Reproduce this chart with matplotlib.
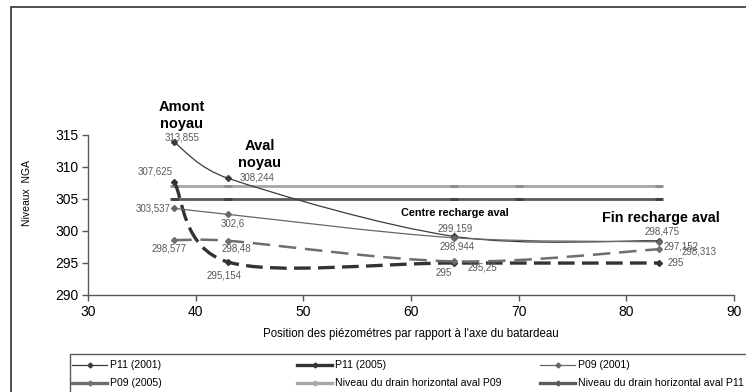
import matplotlib
matplotlib.use("Agg")
import matplotlib.pyplot as plt
from matplotlib.path import Path
from matplotlib.patches import PathPatch, Rectangle
from matplotlib.lines import Line2D
import numpy as np

plt.rcParams['font.family'] = ['Liberation Sans', 'DejaVu Sans']

# ---- data ----
positions = [38, 43, 64, 83]
p11_2001 = [313.855, 308.244, 299.159, 298.475]
p11_2005 = [307.625, 295.154, 295, 295]
p09_2001 = [303.537, 302.6, 298.944, 298.313]
p09_2005 = [298.577, 298.48, 295.25, 297.152]
drain_positions = [38, 43, 64, 70, 83]
drain_p09 = [307, 307, 307, 307, 307]
drain_p11 = [305, 305, 305, 305, 305]
labels_p11_2001 = ["313,855", "308,244", "299,159", "298,475"]
labels_p11_2005 = ["307,625", "295,154", "295", "295"]
labels_p09_2001 = ["303,537", "302,6", "298,944", "298,313"]
labels_p09_2005 = ["298,577", "298,48", "295,25", "297,152"]
xticks = [30, 40, 50, 60, 70, 80, 90]
yticks = [290, 295, 300, 305, 310, 315]

W, H = 746, 392
fig = plt.figure(figsize=(W / 100, H / 100), dpi=100)
ax = fig.add_axes([88 / W, 1 - 295 / H, (734 - 88) / W, (295 - 135) / H])
ax.set_xlim(30, 90)
ax.set_ylim(290, 315)


def smooth_patch(xs, ys, **kw):
    """Excel-like smoothed line: Bezier segments with Catmull-Rom tangents
    (computed in screen space, arm length limited to half a segment)."""
    pts = ax.transData.transform(np.column_stack([xs, ys]).astype(float))
    n = len(pts)
    verts = [pts[0]]
    codes = [Path.MOVETO]
    for i in range(n - 1):
        p0 = pts[i - 1] if i > 0 else pts[i]
        p1 = pts[i]
        p2 = pts[i + 1]
        p3 = pts[i + 2] if i + 2 < n else pts[i + 1]
        seg = np.hypot(*(p2 - p1))
        a1 = (p2 - p0) / 6.0
        a2 = (p3 - p1) / 6.0
        for a in (a1, a2):
            L = np.hypot(*a)
            if L > seg / 2 and L > 0:
                a *= (seg / 2) / L
        verts += [p1 + a1, p2 - a2, p2]
        codes += [Path.CURVE4] * 3
    verts = ax.transData.inverted().transform(np.array(verts))
    patch = PathPatch(Path(verts, codes), fill=False, **kw)
    ax.add_patch(patch)
    return patch


# drain lines
ax.plot(drain_positions, drain_p09, color='#a6a6a6', lw=2, marker='_', ms=6,
        mew=2, mec='#8c8c8c', zorder=2)
ax.plot(drain_positions, drain_p11, color='#5a5a5a', lw=2, marker='_', ms=6,
        mew=2, mec='#404040', zorder=2)

# series
c_p11_01, c_p11_05, c_p09_01, c_p09_05 = '#3c3c3c', '#333333', '#666666', '#6e6e6e'
smooth_patch(positions, p11_2001, edgecolor=c_p11_01, lw=0.9, zorder=3)
smooth_patch(positions, p11_2005, edgecolor=c_p11_05, lw=2.4, zorder=3,
             linestyle=(0, (5, 2.2)), capstyle='butt')
smooth_patch(positions, p09_2001, edgecolor=c_p09_01, lw=0.9, zorder=3)
smooth_patch(positions, p09_2005, edgecolor=c_p09_05, lw=1.8, zorder=3,
             linestyle=(0, (7, 3.5)), capstyle='butt')
for ys, c in [(p11_2001, c_p11_01), (p11_2005, c_p11_05),
              (p09_2001, c_p09_01), (p09_2005, c_p09_05)]:
    ax.plot(positions, ys, ls='none', marker='D', ms=3, color=c, zorder=4)

# data labels (offsets in pixels)
lab_col = '#595959'
offsets = {
    'p11_2001': [(8, 5), (29, 1), (1, 8), (3, 9)],
    'p11_2005': [(-19, 11), (-4, -13), (-10, -10), (17, 0)],
    'p09_2001': [(-21, 0), (5, -9), (3, -9), (40, -10)],
    'p09_2005': [(-5, -8), (8, -8), (28, -6), (22, 3)],
}
for key, ys, labs in [('p11_2001', p11_2001, labels_p11_2001),
                      ('p11_2005', p11_2005, labels_p11_2005),
                      ('p09_2001', p09_2001, labels_p09_2001),
                      ('p09_2005', p09_2005, labels_p09_2005)]:
    for x, y, t, off in zip(positions, ys, labs, offsets[key]):
        ax.annotate(t, (x, y), xytext=off, textcoords='offset pixels',
                    ha='center', va='center', fontsize=7, color=lab_col,
                    annotation_clip=False, zorder=5)

# section annotations
ax.text(38.73, 318.1, "Amont\nnoyau", ha='center', va='center', fontsize=10.5,
        fontweight='bold', linespacing=1.3, clip_on=False)
ax.text(45.97, 311.9, "Aval\nnoyau", ha='center', va='center', fontsize=10.5,
        fontweight='bold', linespacing=1.3, clip_on=False)
ax.text(64.09, 302.8, "Centre recharge aval", ha='center', va='center',
        fontsize=7.8, fontweight='bold', clip_on=False)
ax.text(83.2, 302.0, "Fin recharge aval", ha='center', va='center',
        fontsize=10.3, fontweight='bold', clip_on=False)

# axes styling
for s in ['top', 'right']:
    ax.spines[s].set_visible(False)
for s in ['left', 'bottom']:
    ax.spines[s].set_color('#595959')
    ax.spines[s].set_linewidth(1)
ax.set_xticks(xticks)
ax.set_yticks(yticks)
ax.tick_params(direction='out', length=4, width=1, color='#595959',
               labelsize=10, pad=3)
ax.set_xlabel("Position des piézométres par rapport à l'axe du batardeau",
              fontsize=8.3, labelpad=7)
fig.text(27 / W, 1 - 193 / H, "Niveaux  NGA", rotation=90, ha='center',
         va='center', fontsize=7.5)

# outer frame
fig.add_artist(Rectangle((11 / W, -0.1), 1.2, 1 - 7 / H + 0.1,
                         transform=fig.transFigure, fill=False,
                         edgecolor='#333333', lw=1.2))

# legend (manual, Excel-style evenly spaced columns)
fig.add_artist(Rectangle((70 / W, -0.1), 1.2, 1 - 354 / H + 0.1,
                         transform=fig.transFigure, fill=False,
                         edgecolor='#595959', lw=1))
leg_items = [
    ("P11 (2001)", dict(color=c_p11_01, lw=0.9), 72, 365),
    ("P11 (2005)", dict(color=c_p11_05, lw=2.4), 297, 365),
    ("P09 (2001)", dict(color=c_p09_01, lw=0.9), 540, 365),
    ("P09 (2005)", dict(color=c_p09_05, lw=2.4), 72, 383),
    ("Niveau du drain horizontal aval P09", dict(color='#a6a6a6', lw=2.4), 297, 383),
    ("Niveau du drain horizontal aval P11", dict(color='#5a5a5a', lw=2.4), 540, 383),
]
for text, style, x0, yp in leg_items:
    yf = 1 - yp / H
    fig.add_artist(Line2D([x0 / W, (x0 + 35) / W], [yf, yf],
                          transform=fig.transFigure, **style))
    fig.add_artist(Line2D([(x0 + 17.5) / W], [yf], transform=fig.transFigure,
                          marker='D', ms=2.5, color=style['color'], ls='none'))
    fig.text((x0 + 38) / W, yf, text, ha='left', va='center', fontsize=7.6)

fig.savefig("out.png", dpi=100)
